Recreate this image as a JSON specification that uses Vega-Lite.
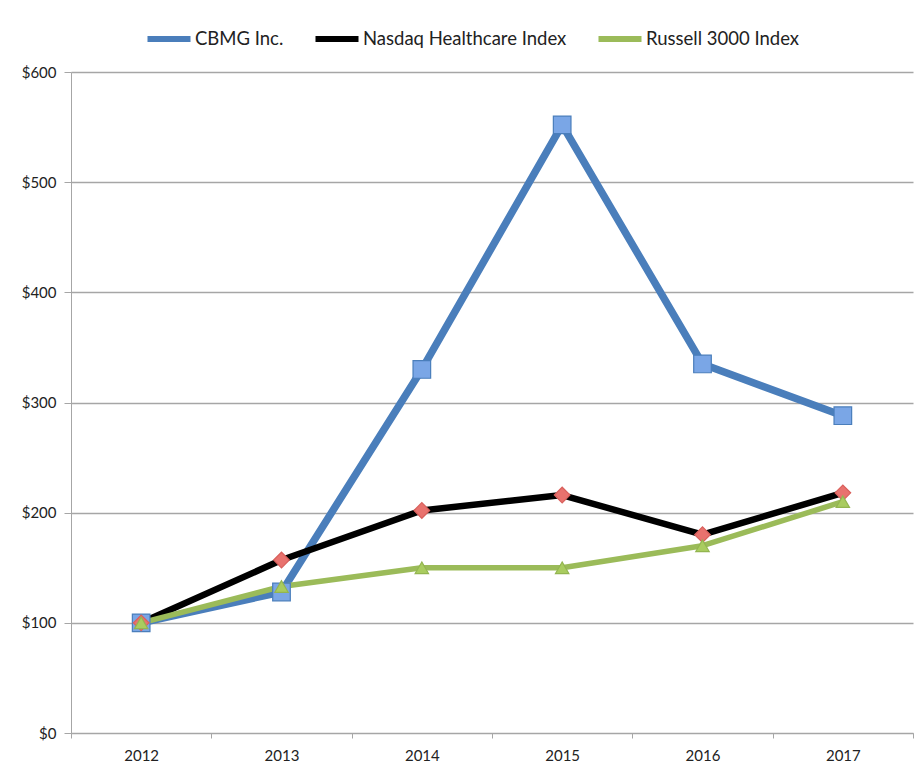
{
  "$schema": "https://vega.github.io/schema/vega-lite/v6.json",
  "width": 842,
  "height": 661,
  "autosize": {"type": "none"},
  "padding": {"left": 71, "top": 72, "right": 6, "bottom": 41},
  "background": "white",
  "config": {
    "view": {"stroke": null},
    "font": "Lato",
    "axis": {"labelFont": "Lato", "labelColor": "#222222"},
    "legend": {"labelFont": "Lato"}
  },
  "data": {
    "values": [
      {"year": "2012", "series": "CBMG Inc.", "value": 100},
      {"year": "2013", "series": "CBMG Inc.", "value": 128},
      {"year": "2014", "series": "CBMG Inc.", "value": 330},
      {"year": "2015", "series": "CBMG Inc.", "value": 552},
      {"year": "2016", "series": "CBMG Inc.", "value": 335},
      {"year": "2017", "series": "CBMG Inc.", "value": 288},
      {"year": "2012", "series": "Nasdaq Healthcare Index", "value": 100},
      {"year": "2013", "series": "Nasdaq Healthcare Index", "value": 157},
      {"year": "2014", "series": "Nasdaq Healthcare Index", "value": 202},
      {"year": "2015", "series": "Nasdaq Healthcare Index", "value": 216},
      {"year": "2016", "series": "Nasdaq Healthcare Index", "value": 180},
      {"year": "2017", "series": "Nasdaq Healthcare Index", "value": 218},
      {"year": "2012", "series": "Russell 3000 Index", "value": 100},
      {"year": "2013", "series": "Russell 3000 Index", "value": 133},
      {"year": "2014", "series": "Russell 3000 Index", "value": 150},
      {"year": "2015", "series": "Russell 3000 Index", "value": 150},
      {"year": "2016", "series": "Russell 3000 Index", "value": 170},
      {"year": "2017", "series": "Russell 3000 Index", "value": 210}
    ]
  },
  "encoding": {
    "x": {
      "field": "year",
      "type": "ordinal",
      "bandPosition": 0.5,
      "scale": {"type": "band", "paddingInner": 0, "paddingOuter": 0},
      "axis": {
        "title": null,
        "labelAngle": 0,
        "labelFontSize": 15,
        "labelPadding": 10,
        "tickBand": "extent",
        "tickSize": 5,
        "tickColor": "#a6a6a6",
        "domainColor": "#a6a6a6",
        "grid": false
      }
    },
    "y": {
      "field": "value",
      "type": "quantitative",
      "scale": {"domain": [0, 600], "nice": false},
      "axis": {
        "title": null,
        "values": [0, 100, 200, 300, 400, 500, 600],
        "labelExpr": "'$' + datum.value",
        "labelFontSize": 15,
        "labelPadding": 8,
        "tickSize": 7,
        "tickColor": "#a6a6a6",
        "domainColor": "#a6a6a6",
        "gridColor": "#a6a6a6",
        "gridWidth": 1.3
      }
    }
  },
  "layer": [
    {
      "mark": {"type": "line", "strokeJoin": "round"},
      "encoding": {
        "color": {
          "field": "series",
          "type": "nominal",
          "scale": {
            "domain": ["CBMG Inc.", "Nasdaq Healthcare Index", "Russell 3000 Index"],
            "range": ["#4a7ebb", "#000000", "#9bbb59"]
          },
          "legend": {
            "title": null,
            "orient": "none",
            "direction": "horizontal",
            "legendX": 73,
            "legendY": -58,
            "symbolType": "stroke",
            "symbolSize": 1850,
            "symbolStrokeWidth": 6,
            "labelFontSize": 18.5,
            "labelLimit": 400,
            "labelColor": "#222222",
            "labelOffset": 1,
            "columnPadding": 19
          }
        },
        "strokeWidth": {
          "field": "series",
          "type": "nominal",
          "scale": {"range": [7.5, 5.5, 5.5]},
          "legend": null
        },
        "order": {"field": "year"}
      }
    },
    {
      "transform": [{"calculate": "datum.series", "as": "marker"}],
      "mark": {"type": "point", "filled": true, "opacity": 1, "strokeWidth": 1.2},
      "encoding": {
        "shape": {
          "field": "marker",
          "type": "nominal",
          "scale": {"range": ["square", "diamond", "triangle-up"]},
          "legend": null
        },
        "fill": {
          "field": "marker",
          "type": "nominal",
          "scale": {"range": ["#7aa6e6", "#e8726e", "#a9cc5f"]},
          "legend": null
        },
        "stroke": {
          "field": "marker",
          "type": "nominal",
          "scale": {"range": ["#4a7ebb", "#d9605c", "#93b550"]},
          "legend": null
        },
        "size": {
          "field": "marker",
          "type": "nominal",
          "scale": {"range": [310, 180, 220]},
          "legend": null
        }
      }
    }
  ]
}
